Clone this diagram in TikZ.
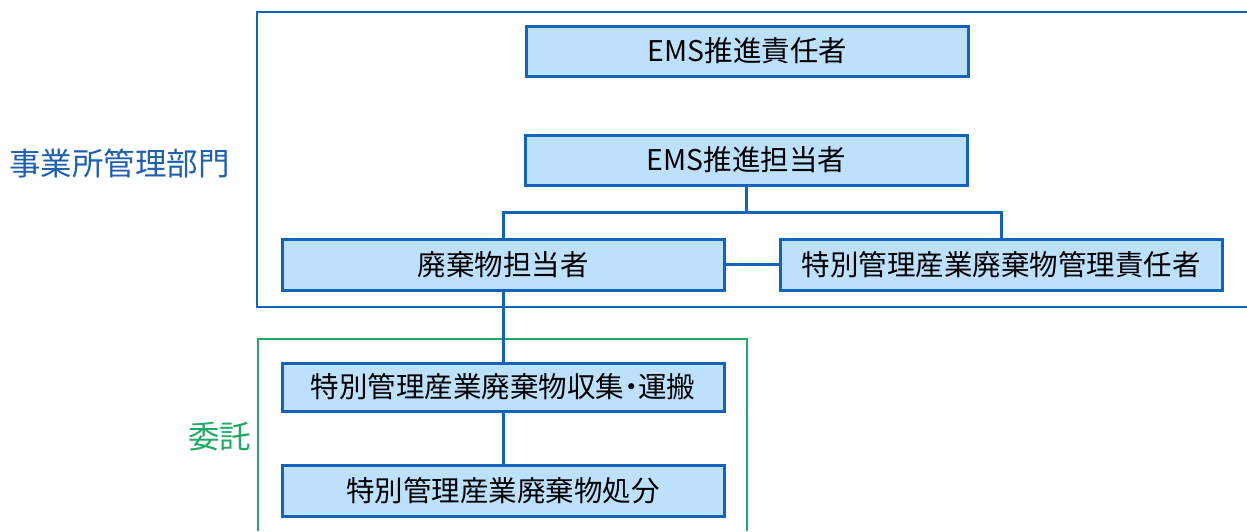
\documentclass[tikz,border=0pt]{standalone}
\usepackage{fontspec}
\setmainfont{Noto Sans CJK JP}[RawFeature=+palt]
\definecolor{boxfill}{RGB}{189,224,253}
\definecolor{boxline}{RGB}{19,99,184}
\definecolor{deptblue}{RGB}{30,95,175}
\definecolor{consgreen}{RGB}{33,168,100}
\tikzset{
  orgbox/.style={draw=boxline, line width=3pt, fill=boxfill, rectangle,
    minimum width=442pt, minimum height=50pt, inner sep=0pt,
    font=\fontsize{28.5}{30}\selectfont, text=black},
  conn/.style={draw=boxline, line width=3pt},
}
\begin{document}
\begin{tikzpicture}[x=1pt,y=-1pt]
\useasboundingbox (0,0) rectangle (1247,531);
% frames
\draw[draw=boxline, line width=2pt] (1247,12) -- (257,12) -- (257,307) -- (1247,307);
\draw[draw=consgreen, line width=2pt] (258,531) -- (258,339) -- (747,339) -- (747,531);
% labels
\node[text=deptblue, font=\fontsize{31.5}{33}\selectfont, anchor=west, inner sep=0pt] (dept) at (9,163) {事業所管理部門};
\node[text=consgreen, font=\fontsize{31.5}{33}\selectfont, anchor=west, inner sep=0pt] (itaku) at (188,437) {委託};
% boxes
\node[orgbox] (b1) at (747.5,51) {EMS推進責任者};
\node[orgbox] (b2) at (746.5,160) {EMS推進担当者};
\node[orgbox, minimum height=51pt] (b3) at (503,264.5) {廃棄物担当者};
\node[orgbox, minimum height=51pt] (b4) at (1001,264.5) {特別管理産業廃棄物管理責任者};
\node[orgbox, minimum height=48pt] (b5) at (503,387) {特別管理産業廃棄物収集・運搬};
\node[orgbox, minimum height=51pt] (b6) at (503,490.5) {特別管理産業廃棄物処分};
% connectors
\coordinate (j) at (746.5,212);
\draw[conn] (b2.south) -- (j);
\draw[conn] (b3.north) |- (j) -| (b4.north);
\draw[conn] (b3.east) -- (b4.west);
\draw[conn] (b3.south) -- (b5.north);
\draw[conn] (b5.south) -- (b6.north);
\end{tikzpicture}
\end{document}
